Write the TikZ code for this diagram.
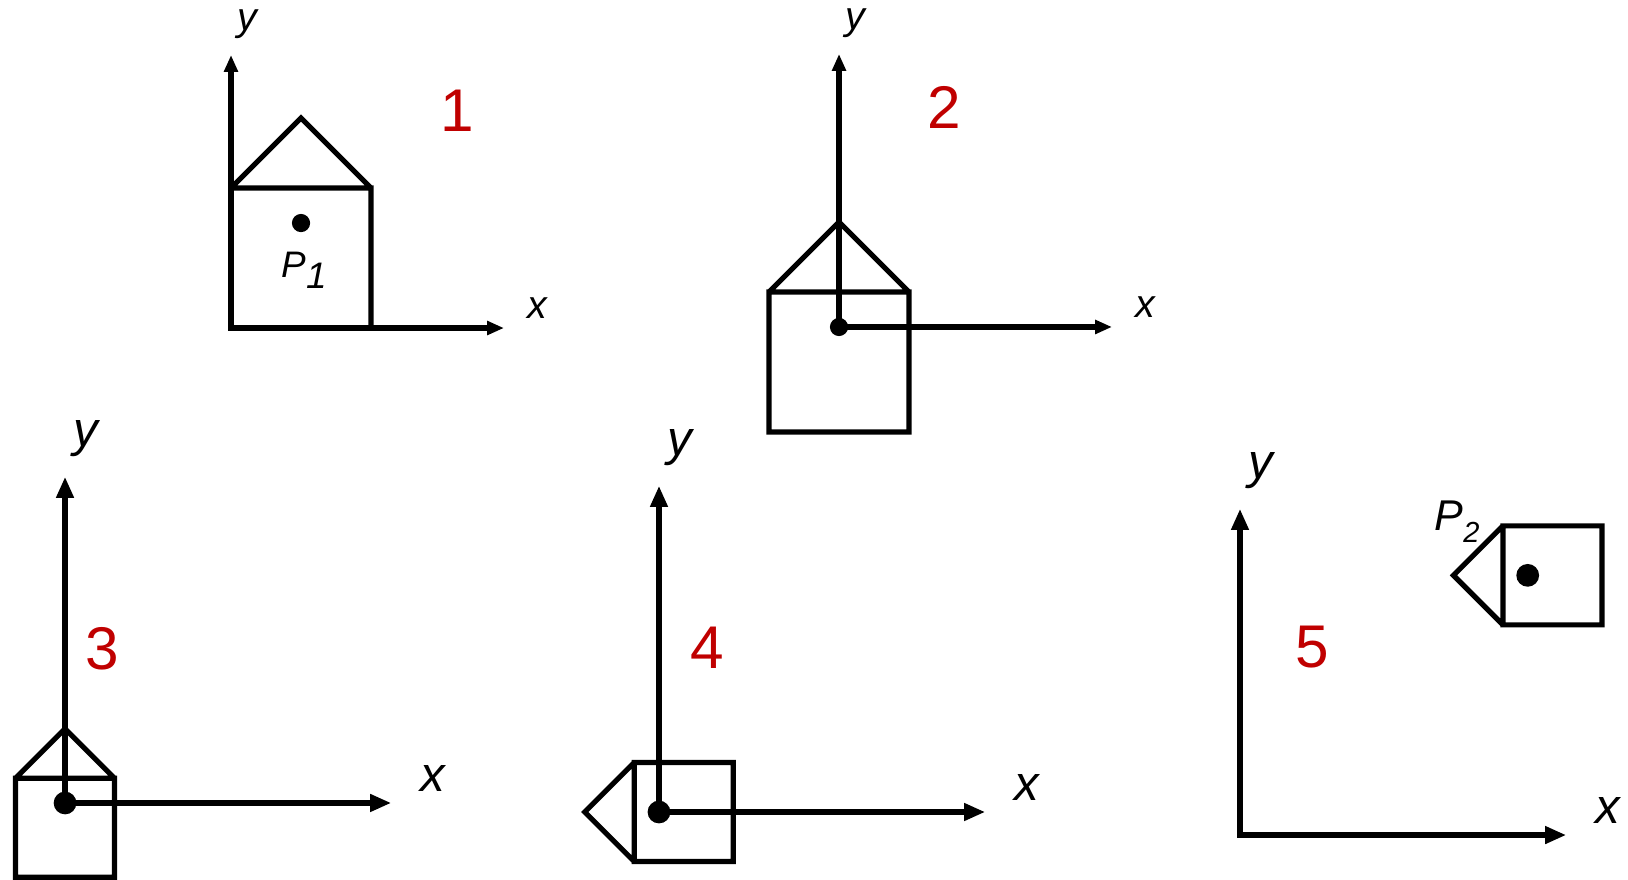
\documentclass[tikz,border=0pt]{standalone}
\usepackage{fontspec}
\setmainfont{Liberation Sans}
\usetikzlibrary{arrows.meta}
\definecolor{numred}{HTML}{C00000}

\begin{document}
\begin{tikzpicture}[
  ax/.style={line width=2.1pt,line join=miter,
    {Triangle[length=0.24cm,width=0.19cm,scale=#1]}-{Triangle[length=0.24cm,width=0.19cm,scale=#1]}},
  hs/.style={line width=2.1pt},
  house/.pic={\draw[hs] (-1,-1.5) rectangle (1,0.5) (-1,0.5) -- (0,1.5) -- (1,0.5);},
  num/.style={text=numred,font=\fontsize{24.5}{26}\selectfont}]
\useasboundingbox (0,0) rectangle (23.257,-12.571);
\foreach \n/\ox/\oy/\len/\k/\sc/\rot/\hx/\hy/\nx/\ny in {
  1/3.3/-4.686/3.9/1/1/0/1/1.5/3.23/3.11,
  2/11.986/-4.671/3.9/1/1/0/0/0/1.51/3.13,
  3/0.929/-11.471/4.66/1.25/0.7071/0/0/0/0.53/2.21,
  4/9.414/-11.6/4.66/1.25/0.7071/90/0/0/0.69/2.34,
  5/17.714/-11.929/4.66/1.25/0.7071/90/4.11/3.71/1.03/2.69}{
  \begin{scope}[shift={(\ox,\oy)}]
  \pgfmathsetmacro\fs{16*\k}
  \coordinate (O\n) at (0,0);
  \coordinate (Y\n) at (0,\len);
  \coordinate (X\n) at (\len,0);
  \coordinate (P\n) at (\hx,\hy);
  \draw[ax=\k] (Y\n) -- (O\n) -- (X\n);
  \pic[scale=\sc,rotate=\rot] at (P\n) {house};
  \fill (P\n) circle[radius=0.13*\k];
  \node[font=\fontsize{\fs}{\fs}\selectfont\itshape] (y\n) at ({0.24*\k},{\len+0.44*\k}) {y};
  \node[font=\fontsize{\fs}{\fs}\selectfont\itshape] (x\n) at ({\len+0.48*\k},{0.28*\k}) {x};
  \node[num] (n\n) at (\nx,\ny) {\n};
  \end{scope}
}
\node[font=\fontsize{15}{16}\selectfont\itshape] (p1) at ([shift={(0.05,-0.67)}]P1) {P\raisebox{-0.3em}{1}};
\node[font=\fontsize{17.5}{18}\selectfont\itshape] (p2) at ([shift={(-1.01,0.76)}]P5) {P\raisebox{-0.28em}{\fontsize{11.8}{12}\selectfont 2}};
\end{tikzpicture}
\end{document}
